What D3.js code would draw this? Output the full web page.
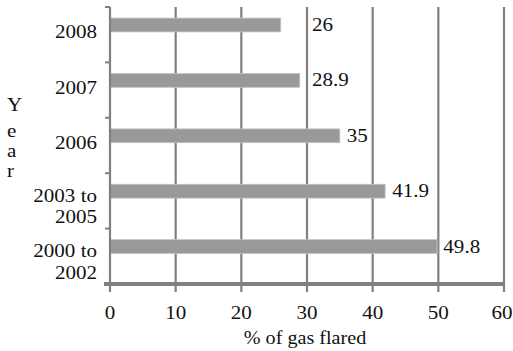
<!DOCTYPE html>
<html><head><meta charset="utf-8">
<script src="https://cdn.jsdelivr.net/npm/d3@7/dist/d3.min.js"></script>
<style>body{margin:0;background:#fff}svg{display:block}text{font-family:"Liberation Serif",serif}</style>
</head><body>
<svg id="c" width="513" height="351"></svg>
<script>
const categories = [["2008"], ["2007"], ["2006"], ["2003 to", "2005"], ["2000 to", "2002"]];
const values = [26, 28.9, 35, 41.9, 49.8];
const xTicks = [0, 10, 20, 30, 40, 50, 60];
const xTitle = "% of gas flared";
const yTitle = ["Y", "e", "a", "r"];

(function () {
const svg = d3.select("#c");
const fs = 18, sx = 1.17;
const mLeft = 110, mRight = 504, mTop = 7, mBottom = 284;
const x = d3.scaleLinear().domain([0, 60]).range([mLeft, mRight]);
const idx = categories.map((d, i) => i);
const y = d3.scaleBand().domain(idx).range([mTop, mBottom]);
const bw = y.bandwidth();

function stretchedText(g, tx, ty, str, anchor, s) {
  const t = g.append("g").attr("transform", `translate(${tx},${ty}) scale(${s || sx},1)`);
  return t.append("text").attr("x", 0).attr("y", 0).attr("text-anchor", anchor || "start")
    .attr("font-size", fs).attr("fill", "#111").text(str);
}

// gridlines with ticks below axis
const grid = svg.append("g");
xTicks.forEach(t => {
  if (t === 0) return;
  grid.append("line").attr("x1", x(t)).attr("x2", x(t)).attr("y1", mTop).attr("y2", mBottom + 8)
    .attr("stroke", "#808080").attr("stroke-width", 2.2);
});

// bars
svg.append("g").selectAll("rect").data(values).join("rect")
  .attr("x", x(0)).attr("y", (d, i) => y(i) + bw * 0.2)
  .attr("width", d => x(d) - x(0)).attr("height", bw * 0.25)
  .attr("fill", "#999999").attr("stroke", "#c4c4c4").attr("stroke-width", 0.8);

// left axis
svg.append("line").attr("x1", mLeft).attr("x2", mLeft).attr("y1", mTop).attr("y2", mBottom + 8)
  .attr("stroke", "#808080").attr("stroke-width", 2.2);
idx.forEach(i => {
  svg.append("line").attr("x1", mLeft - 5).attr("x2", mLeft).attr("y1", y(i)).attr("y2", y(i))
    .attr("stroke", "#808080").attr("stroke-width", 2);
});
// bottom axis
svg.append("line").attr("x1", mLeft - 6).attr("x2", mRight).attr("y1", mBottom).attr("y2", mBottom)
  .attr("stroke", "#808080").attr("stroke-width", 4);

// x tick labels
const tl = svg.append("g");
xTicks.forEach(t => stretchedText(tl, x(t) - (t === 60 ? 2 : 0), 319, String(t), "middle"));
stretchedText(tl, (mLeft + mRight) / 2 - 2, 344, xTitle, "middle", 1.12);

// y labels
const yl = svg.append("g");
categories.forEach((lines, i) => {
  const c = y(i) + bw / 2;
  if (lines.length === 1) {
    stretchedText(yl, 97, c + 3.5, lines[0], "end");
  } else {
    stretchedText(yl, 97, c + 1, lines[0], "end");
    stretchedText(yl, 97, c + 22.5, lines[1], "end");
  }
});

// y title
const yt = svg.append("g");
const yb = [111, 137, 157, 177];
yTitle.forEach((ch, i) => stretchedText(yt, 7, yb[i], ch, "start"));

// value labels
const vl = svg.append("g");
values.forEach((v, i) => {
  const end = x(v);
  const str = String(v);
  const w = str.replace(".", "").length * fs * 0.5 * sx + (str.includes(".") ? fs * 0.25 * sx : 0);
  let start = end + 7;
  xTicks.forEach(t => {
    const gx = x(t);
    if (gx >= end - 1 && gx <= start + w) start = gx + 5;
  });
  stretchedText(vl, start, y(i) + bw * 0.2 + bw * 0.125 + 6, str, "start");
});
})();
</script>
</body></html>
